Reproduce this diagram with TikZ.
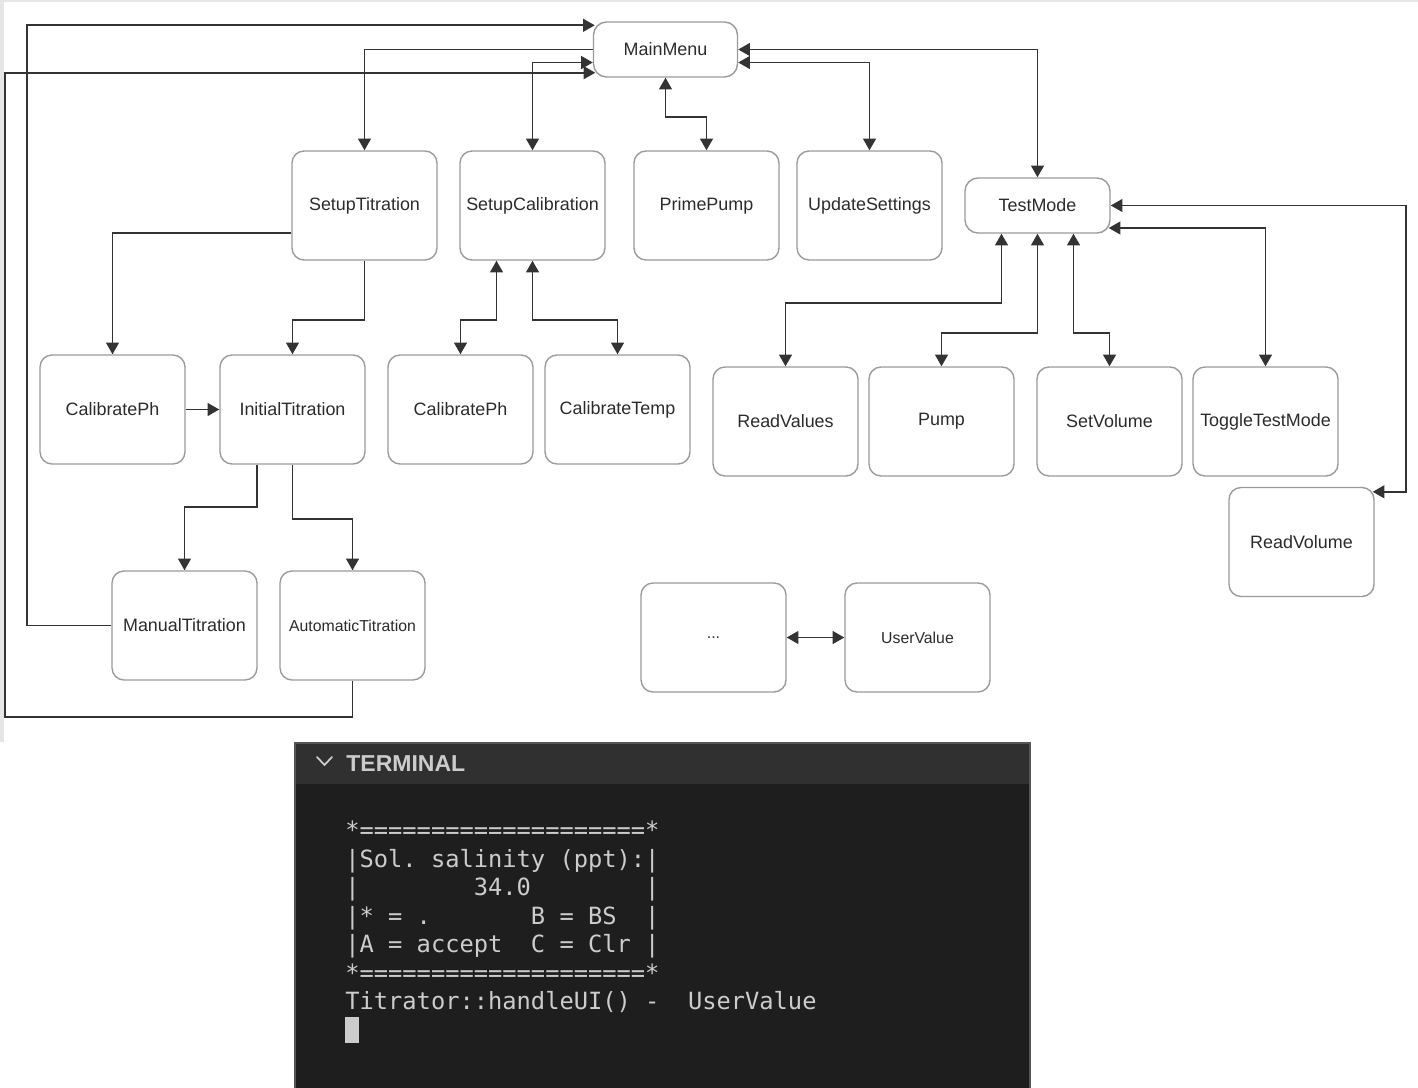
\documentclass[tikz,border=0pt]{standalone}
\usepackage{fontspec}
\setmainfont{Liberation Sans}
\setmonofont{DejaVu Sans Mono}
\usetikzlibrary{arrows.meta,calc}
\definecolor{lineC}{HTML}{333333}
\definecolor{boxC}{HTML}{9A9A9A}
\definecolor{txtC}{HTML}{2B2B2B}
\definecolor{edgeC}{HTML}{E6E6E6}
\definecolor{termBg}{HTML}{1E1E1E}
\definecolor{termHead}{HTML}{303030}
\definecolor{termLine}{HTML}{555555}
\definecolor{termTxt}{HTML}{CCCCCC}

\begin{document}
\begin{tikzpicture}[x=0.02cm,y=-0.02cm,
  state/.style={draw=boxC, line width=0.8pt, rounded corners=0.24cm, fill=white,
    minimum width=2.9cm, minimum height=2.18cm, inner sep=1pt,
    font=\fontsize{10.2}{12}\selectfont, text=txtC},
  flat/.style={state, minimum height=1.1cm, rounded corners=0.26cm},
  small/.style={font=\fontsize{9}{11}\selectfont},
  tip/.tip={Triangle[length=6.6pt,width=7.2pt]},
  link/.style={draw=lineC, line width=1.1pt, -tip},
  twoway/.style={draw=lineC, line width=1.1pt, tip-tip},
  term/.style={anchor=base west, inner sep=0pt, text=termTxt,
    font=\ttfamily\fontsize{13.5}{16}\selectfont}
]
\useasboundingbox (0,0) rectangle (1418,1088);
\fill[white] (0,0) rectangle (1418,1088);
% canvas edges
\fill[edgeC] (0,0) rectangle (1418,2);
\fill[edgeC] (0,0) rectangle (4,742);

% states
\node[flat, minimum width=2.88cm] (MainMenu) at (665.5,49.5) {MainMenu};
\node[state] (SetupTitration)   at (364.5,205.5) {SetupTitration};
\node[state] (SetupCalibration) at (532.5,205.5) {SetupCalibration};
\node[state] (PrimePump)        at (706.5,205.5) {PrimePump};
\node[state] (UpdateSettings)   at (869.5,205.5) {UpdateSettings};
\node[flat]  (TestMode)         at (1037.5,205.5) {TestMode};

\node[state] (CalibratePh)      at (112.5,409.5) {CalibratePh};
\node[state] (InitialTitration) at (292.5,409.5) {InitialTitration};
\node[state] (CalibratePhB)     at (460.5,409.5) {CalibratePh};
\node[state] (CalibrateTemp)    at (617.5,409.5) {CalibrateTemp};

\node[state] (ReadValues)       at (785.5,421.5) {ReadValues};
\node[state] (Pump)             at (941.5,421.5) {Pump};
\node[state] (SetVolume)        at (1109.5,421.5) {SetVolume};
\node[state] (ToggleTestMode)   at (1265.5,421.5) {ToggleTestMode};
\node[state] (ReadVolume)       at (1301.5,542) {ReadVolume};

\node[state] (ManualTitration)    at (184.5,625.5) {ManualTitration};
\node[state, small] (AutomaticTitration) at (352.5,625.5) {AutomaticTitration};
\node[state, small] (Dots)        at (713.5,637.5) {...};
\node[state, small] (UserValue)   at (917.5,637.5) {UserValue};

% entry points on rounded corners
\coordinate (mmTop) at ($(MainMenu.north west)+(2,4)$);
\coordinate (mmLow) at ($(MainMenu.south west)+(2.5,-5)$);
\coordinate (tmLow) at ($(TestMode.east)+(-2,22.5)$);
\coordinate (rvIn)  at ($(ReadVolume.north east)+(-2,5)$);

% main menu branches
\draw[twoway] (MainMenu.south) -- ++(0,39) -| (PrimePump.north);
\draw[link] (MainMenu.west) -| (SetupTitration.north);
\draw[twoway] ($(MainMenu.west)+(0,13)$) -| (SetupCalibration.north);
\draw[twoway] (MainMenu.east) -| (TestMode.north);
\draw[twoway] ($(MainMenu.east)+(0,13)$) -| (UpdateSettings.north);

% titration setup
\draw[link] ($(SetupTitration.west)+(0,27.5)$) -| (CalibratePh.north);
\draw[link] (SetupTitration.south) -- ++(0,59) -| (InitialTitration.north);
\draw[link] (CalibratePh) -- (InitialTitration);
\draw[link] ($(InitialTitration.south)+(-35.5,0)$) -- ++(0,42) -| (ManualTitration.north);
\draw[link] (InitialTitration.south) -- ++(0,54) -| (AutomaticTitration.north);

% returns to the main menu
\draw[link] (ManualTitration.west) -- ++(-84,0) |- (mmTop);
\draw[link] (AutomaticTitration.south) -- ++(0,36) -- ++(-347.5,0) |- (mmLow);

% calibration setup
\draw[twoway] ($(SetupCalibration.south)+(-36,0)$) -- ++(0,59) -| (CalibratePhB.north);
\draw[twoway] (SetupCalibration.south) -- ++(0,59) -| (CalibrateTemp.north);

% test mode
\draw[twoway] ($(TestMode.south)+(-36,0)$) -- ++(0,69) -| (ReadValues.north);
\draw[twoway] (TestMode.south) -- ++(0,99) -| (Pump.north);
\draw[twoway] ($(TestMode.south)+(36,0)$) -- ++(0,99) -| (SetVolume.north);
\draw[twoway] (tmLow) -| (ToggleTestMode.north);
\draw[twoway] (TestMode.east) -- ++(295.5,0) |- (rvIn);

% value entry
\draw[twoway] (Dots) -- (UserValue);

% terminal panel
\fill[termBg] (295,743) rectangle (1030,1088);
\fill[termHead] (295,743) rectangle (1030,784);
\draw[termLine, line width=0.6pt] (295,1088) -- (295,743) -- (1030,743) -- (1030,1088);
\draw[termTxt, line width=1pt, line cap=round, line join=round]
  (317,757) -- (324.5,765) -- (332,757);
\node[anchor=base west, inner sep=0pt, text=termTxt,
  font=\bfseries\fontsize{13.1}{15}\selectfont] (termTitle) at (346,771) {TERMINAL};

\node[term] (l1) at (345,838.5) {*====================*};
\node[term] (l2) at (345,867) {|Sol. salinity (ppt):|};
\node[term] (l3) at (345,895.5) {|\phantom{00000000}34.0\phantom{00000000}|};
\node[term] (l4) at (345,924) {|* = .\phantom{0000000}B = BS\phantom{00}|};
\node[term] (l5) at (345,952.5) {|A = accept\phantom{00}C = Clr\phantom{0}|};
\node[term] (l6) at (345,981) {*====================*};
\node[term] (l7) at (345,1009.5) {Titrator::handleUI() -\phantom{00}UserValue};
\fill[termTxt] (345,1017) rectangle (359,1043);

\end{tikzpicture}
\end{document}
